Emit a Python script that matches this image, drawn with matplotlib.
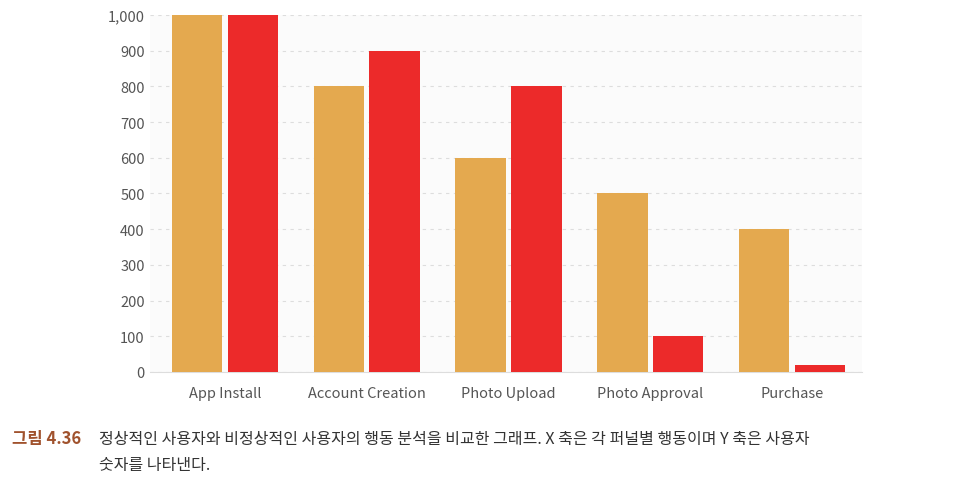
import matplotlib.pyplot as plt
import numpy as np

categories = ['App Install', 'Account Creation', 'Photo Upload', 'Photo Approval', 'Purchase']
normal_users = [1000, 800, 600, 500, 400]
abnormal_users = [1000, 900, 800, 100, 20]

plt.rcParams['font.family'] = ['Noto Sans CJK KR', 'DejaVu Sans']

fig = plt.figure(figsize=(9.66, 4.85), dpi=100)
ax = fig.add_axes([0.155, 0.231, 0.737, 0.736])
ax.set_facecolor('#fbfbfb')

x = np.arange(len(categories))
ax.bar(x - 0.197, normal_users, width=0.355, color='#e4a94f', zorder=3)
ax.bar(x + 0.197, abnormal_users, width=0.355, color='#ec2a2a', zorder=3)

ax.set_xlim(-0.53, 4.49)
ax.set_ylim(0, 1000)
ax.set_yticks(range(0, 1001, 100))
ax.set_yticklabels([f'{v:,}' for v in range(0, 1001, 100)])
ax.set_xticks(x)
ax.set_xticklabels(categories)
ax.tick_params(length=0, labelsize=10.5, colors='#555555')
ax.tick_params(axis='x', pad=10)
ax.grid(axis='y', linestyle=(0, (3, 4)), color='#dddddd', linewidth=0.8, zorder=0)
for s in ['top', 'right', 'left']:
    ax.spines[s].set_visible(False)
ax.spines['bottom'].set_color('#dddddd')

fig.text(0.012, 0.085, '그림 4.36', color='#a0522d', fontsize=12, fontweight='bold')
fig.text(0.103, 0.085, '정상적인 사용자와 비정상적인 사용자의 행동 분석을 비교한 그래프. X 축은 각 퍼널별 행동이며 Y 축은 사용자',
         color='#333333', fontsize=11.5)
fig.text(0.103, 0.03, '숫자를 나타낸다.', color='#333333', fontsize=11.5)

fig.savefig('out.png', dpi=100, facecolor='white')
